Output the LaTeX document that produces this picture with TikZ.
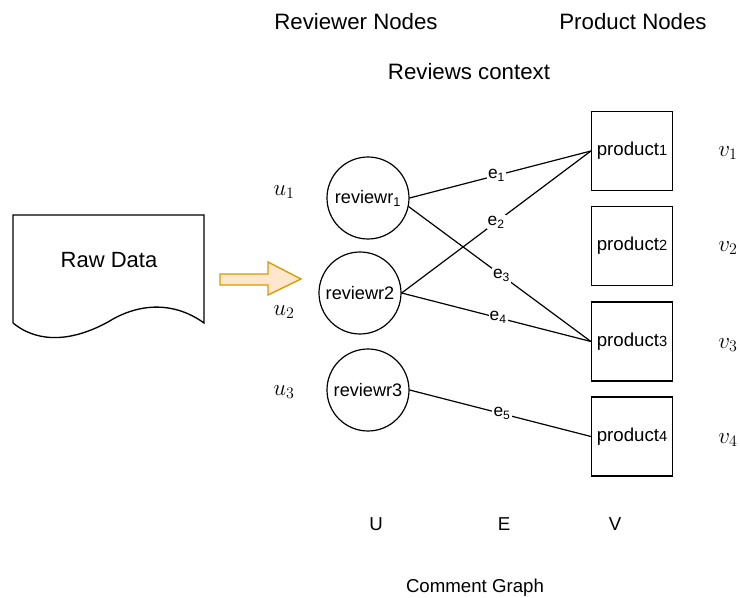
\documentclass[tikz,border=0pt]{standalone}
\usepackage{fontspec}
\setmainfont{Liberation Sans}
\usepackage{amsmath}

\definecolor{arrline}{HTML}{D79B00}
\definecolor{arrfill}{HTML}{FFE6CC}

\def\rr{61.5pt}
\def\pw{60.75pt}
\def\ph{59.25pt}
\def\sz#1{\fontsize{#1}{#1}\selectfont}

\tikzset{
	reviewer/.style={draw,circle,minimum size=\rr,inner sep=0pt,font=\sz{13.6pt}},
	product/.style={draw,rectangle,minimum width=\pw,minimum height=\ph,inner sep=0pt,font=\sz{14pt}},
	elabel/.style={fill=white,inner sep=0.8pt,font=\sz{13pt}},
	title/.style={font=\sz{16.7pt}},
	mlabel/.style={font=\sz{17pt}}
}

\begin{document}
\begin{tikzpicture}[x=0.75pt,y=-0.75pt,line width=0.9pt]
\useasboundingbox (0,0) rectangle (740,598);
% raw data document
\draw[line width=1pt] (13,323) -- (13,215) -- (204,215) -- (204,323)
	.. controls (175,302) and (140,302) .. (108,322)
	.. controls (75,340) and (40,345) .. (13,323);
\node[font=\sz{16.5pt}] (raw) at (109,260) {Raw Data};
% block arrow
\draw[arrline,fill=arrfill,line width=1pt] (220,274) -- (268,274) -- (268,262) -- (301,279)
	-- (268,295) -- (268,285) -- (220,285) -- cycle;
% headers
\node[title] (hrev) at (356,22) {Reviewer Nodes};
\node[title] (hprod) at (633,22) {Product Nodes};
\node[title] (hctx) at (469,72) {Reviews context};
% reviewers
\node[reviewer] (rv1) at (368,198) {reviewr\textsubscript{1}};
\node[reviewer] (rv2) at (360,293) {reviewr2};
\node[reviewer] (rv3) at (368,390) {reviewr3};
% products
\node[product] (pr1) at (632,151) {product{\sz{11pt}1}};
\node[product] (pr2) at (632,246) {product{\sz{11pt}2}};
\node[product] (pr3) at (632,341.5) {product{\sz{11pt}3}};
\node[product] (pr4) at (632,436.5) {product{\sz{11pt}4}};
% edges
\draw (rv1.east) -- node[elabel,pos=0.48] (e1) {e\textsubscript{1}} (pr1.west);
\draw (rv2.east) -- node[elabel,pos=0.5] (e2) {e\textsubscript{2}} (pr1.west);
\draw (rv1.-12) -- node[elabel,pos=0.51] (e3) {e\textsubscript{3}} (pr3.west);
\draw (rv2.east) -- node[elabel,pos=0.51] (e4) {e\textsubscript{4}} (pr3.west);
\draw (rv3.east) -- node[elabel,pos=0.51] (e5) {e\textsubscript{5}} (pr4.west);
% math labels
\node[mlabel] (u1) at (284,192) {$u_1$};
\node[mlabel] (u2) at (284,312) {$u_2$};
\node[mlabel] (u3) at (284,392) {$u_3$};
\node[mlabel] (v1) at (728,153) {$v_1$};
\node[mlabel] (v2) at (728,248) {$v_2$};
\node[mlabel] (v3) at (728,345) {$v_3$};
\node[mlabel] (v4) at (728,440) {$v_4$};
% bottom
\node[font=\sz{14pt}] (setu) at (376,524) {U};
\node[font=\sz{14pt}] (sete) at (504,524) {E};
\node[font=\sz{14pt}] (setv) at (615,524) {V};
\node[font=\sz{14pt}] (cap) at (475,588) {Comment Graph};
\end{tikzpicture}
\end{document}
